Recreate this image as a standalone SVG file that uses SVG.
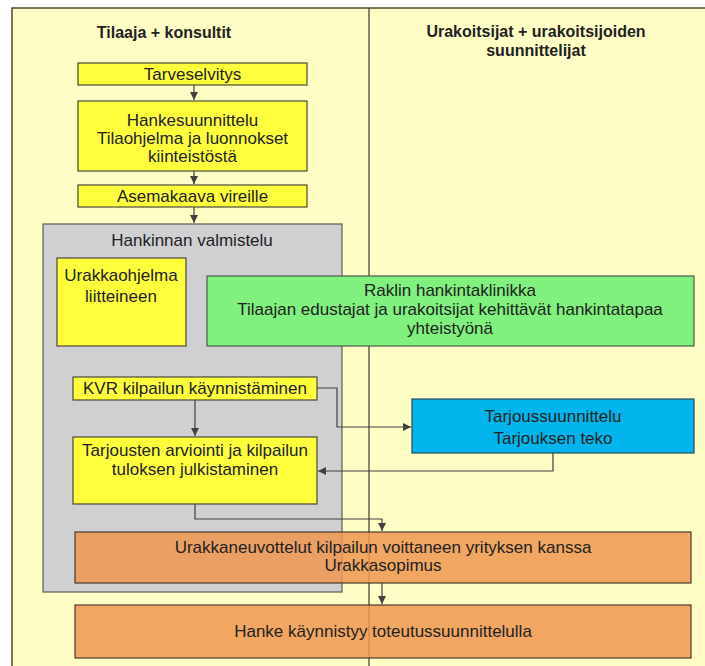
<svg xmlns="http://www.w3.org/2000/svg" width="705" height="666" viewBox="0 0 705 666">
<style>
text{font-family:"Liberation Sans",Arial,sans-serif;font-size:17px;fill:#222222;text-anchor:middle}
.h{font-weight:bold;font-size:16px}
.y{fill:#FFFF3C;stroke:#4a4a3a;stroke-width:1.2}
.g{fill:#D0D0D2;stroke:#5a5a5a;stroke-width:1.2}
.gr{fill:#80F07E;stroke:#4a5a4a;stroke-width:1.2}
.b{fill:#00B4EC;stroke:#2a4a5a;stroke-width:1.2}
.o{fill:#EE9650;fill-opacity:0.85;stroke:#4a3a2a;stroke-width:1.2}
.c{fill:none;stroke:#404040;stroke-width:1.2}
</style>
<defs>
<marker id="ar" viewBox="0 0 10 10" refX="10" refY="5" markerWidth="8" markerHeight="8" markerUnits="userSpaceOnUse" orient="auto">
<path d="M0,0 L10,5 L0,10 Z" fill="#404040"/>
</marker>
</defs>
<rect width="705" height="666" fill="#ffffff"/>
<g id="frame">
<rect x="12" y="8" width="700" height="670" fill="#FFFEC6" stroke="#4a4a2a" stroke-width="1.5"/>
<text class="h" x="164" y="38">Tilaaja + konsultit</text>
<text class="h" x="536" y="37">Urakoitsijat + urakoitsijoiden</text>
<text class="h" x="536" y="56">suunnittelijat</text>
</g>
<g id="hankinnan-valmistelu">
<rect class="g" x="43" y="224" width="299" height="368"/>
<text x="192" y="246">Hankinnan valmistelu</text>
</g>
<g id="divider">
<line x1="369" y1="8" x2="369" y2="666" stroke="#3a3a2a" stroke-width="1.2"/>
</g>
<g id="tarveselvitys">
<rect class="y" x="78" y="63" width="229" height="22"/>
<text x="192.5" y="80">Tarveselvitys</text>
</g>
<g id="hankesuunnittelu">
<rect class="y" x="78" y="101" width="229" height="70"/>
<text x="192.5" y="126">Hankesuunnittelu</text>
<text x="192.5" y="144">Tilaohjelma ja luonnokset</text>
<text x="192.5" y="162">kiinteistöstä</text>
</g>
<g id="asemakaava">
<rect class="y" x="78" y="185" width="229" height="22"/>
<text x="192.5" y="202">Asemakaava vireille</text>
</g>
<g id="urakkaohjelma">
<rect class="y" x="57" y="258" width="129" height="88"/>
<text x="121" y="281">Urakkaohjelma</text>
<text x="121" y="302">liitteineen</text>
</g>
<g id="raklin">
<rect class="gr" x="207" y="276" width="487" height="70"/>
<text x="450" y="296">Raklin hankintaklinikka</text>
<text x="450" y="315">Tilaajan edustajat ja urakoitsijat kehittävät hankintatapaa</text>
<text x="450" y="334">yhteistyönä</text>
</g>
<g id="kvr">
<rect class="y" x="73" y="377" width="244" height="23"/>
<text x="195" y="394">KVR kilpailun käynnistäminen</text>
</g>
<g id="tarjousten">
<rect class="y" x="73" y="437" width="244" height="67"/>
<text x="195" y="456">Tarjousten arviointi ja kilpailun</text>
<text x="195" y="475">tuloksen julkistaminen</text>
</g>
<g id="tarjoussuunnittelu">
<rect class="b" x="412" y="399" width="282" height="54"/>
<text x="553" y="422">Tarjoussuunnittelu</text>
<text x="553" y="444">Tarjouksen teko</text>
</g>
<g id="urakkaneuvottelut">
<rect class="o" x="75" y="532" width="616" height="51"/>
<text x="383" y="553">Urakkaneuvottelut kilpailun voittaneen yrityksen kanssa</text>
<text x="383" y="571">Urakkasopimus</text>
</g>
<g id="hanke">
<rect class="o" x="75" y="605" width="616" height="53"/>
<text x="383" y="637">Hanke käynnistyy toteutussuunnittelulla</text>
</g>
<g id="connectors">
<line class="c" x1="194" y1="85" x2="194" y2="100" marker-end="url(#ar)"/>
<line class="c" x1="194" y1="171" x2="194" y2="184" marker-end="url(#ar)"/>
<line class="c" x1="194" y1="207" x2="194" y2="223" marker-end="url(#ar)"/>
<line class="c" x1="195" y1="400" x2="195" y2="436" marker-end="url(#ar)"/>
<polyline class="c" points="317,388 337,388 337,427 411,427" marker-end="url(#ar)"/>
<polyline class="c" points="553,453 553,471 318,471" marker-end="url(#ar)"/>
<polyline class="c" points="195,504 195,519 382,519 382,531" marker-end="url(#ar)"/>
<line class="c" x1="382" y1="583" x2="382" y2="604" marker-end="url(#ar)"/>
</g>
</svg>
